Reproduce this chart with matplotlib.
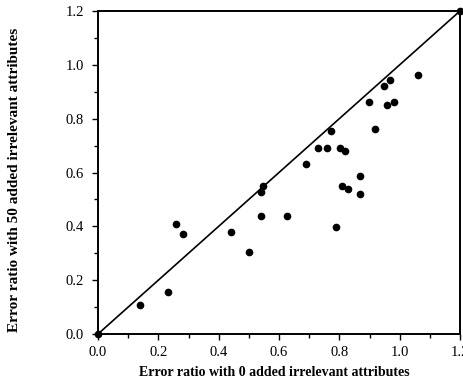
import matplotlib
matplotlib.use("Agg")
import matplotlib.pyplot as plt
from matplotlib.ticker import MultipleLocator

x_vals = [1.061, 0.969, 0.947, 0.897, 0.959, 0.980, 0.917, 0.771, 0.729, 0.759,
          0.801, 0.818, 0.688, 0.868, 0.547, 0.540, 0.809, 0.830, 0.869, 0.540,
          0.628, 0.790, 0.259, 0.282, 0.440, 0.499, 0.232, 0.138, 0.0, 1.2]
y_vals = [0.963, 0.942, 0.922, 0.861, 0.849, 0.861, 0.763, 0.755, 0.690, 0.690,
          0.690, 0.680, 0.631, 0.588, 0.548, 0.529, 0.548, 0.539, 0.520, 0.439,
          0.439, 0.399, 0.408, 0.371, 0.380, 0.306, 0.156, 0.108, 0.0, 1.2]
diag = [0.0, 1.2]
ticks = [0.0, 0.2, 0.4, 0.6, 0.8, 1.0, 1.2]
tick_labels = ["0.0", "0.2", "0.4", "0.6", "0.8", "1.0", "1.2"]

fig = plt.figure(figsize=(4.63, 3.89), dpi=100)
ax = fig.add_axes([98/463, 55/389, (460-98)/463, (334-11)/389])
ax.plot(diag, diag, color="black", lw=1.2, zorder=1)
ax.plot(x_vals, y_vals, "o", color="black", ms=4.5, zorder=2, clip_on=False)
ax.set_xlim(0, 1.2)
ax.set_ylim(0, 1.2)
ax.set_xticks(ticks)
ax.set_xticklabels(tick_labels, fontfamily="Liberation Serif", fontsize=10.5)
ax.set_yticks(ticks)
ax.set_yticklabels(tick_labels, fontfamily="Liberation Serif", fontsize=10.5)
ax.xaxis.set_minor_locator(MultipleLocator(0.1))
ax.yaxis.set_minor_locator(MultipleLocator(0.1))
ax.tick_params(which="major", length=4, width=1, direction="out")
ax.tick_params(axis="x", which="major", pad=5)
ax.tick_params(axis="y", which="major", pad=6)
ax.tick_params(which="minor", length=3, width=1, direction="out")
for s in ax.spines.values():
    s.set_linewidth(1.4)
ax.set_xlabel("Error ratio with 0 added irrelevant attributes",
              fontfamily="Liberation Serif", fontweight="bold", fontsize=10)
ax.set_ylabel("Error ratio with 50 added irrelevant attributes",
              fontfamily="Liberation Serif", fontweight="bold", fontsize=11)
ax.xaxis.label.set_verticalalignment("center")
ax.yaxis.label.set_verticalalignment("center")
ax.xaxis.set_label_coords((274 - 98) / 362, (334 - 373) / 323)
ax.yaxis.set_label_coords((15 - 98) / 362, (334 - 180) / 323)
fig.savefig("out.png", dpi=100)
